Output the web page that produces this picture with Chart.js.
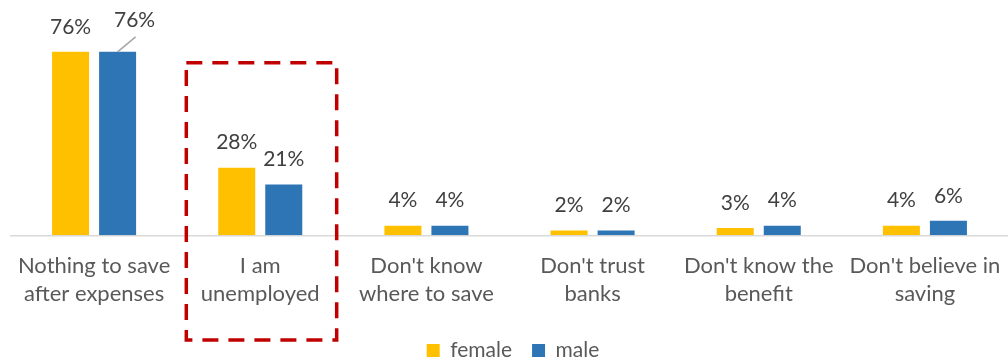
<!DOCTYPE html>
<html>
<head>
<meta charset="utf-8">
<script src="https://cdn.jsdelivr.net/npm/chart.js@4.4.1/dist/chart.umd.min.js"></script>
<style>
    html, body { margin: 0; padding: 0; background: #fff; }
    #wrap { width: 1008px; height: 358px; position: relative; }
</style>
</head>
<body>
<div id="wrap"><canvas id="chart"></canvas></div>
<script>
// Reasons for not saving, share of respondents by gender (%)
const categories = [
    ['Nothing to save', 'after expenses'],
    ['I am', 'unemployed'],
    ["Don't know", 'where to save'],
    ["Don't trust", 'banks'],
    ["Don't know the", 'benefit'],
    ["Don't believe in", 'saving']
];
const femaleValues = [76, 28, 4, 2, 3, 4];
const maleValues = [76, 21, 4, 2, 4, 6];
const seriesNames = ['female', 'male'];

const FONT = 'Lato, "Open Sans", sans-serif';
const HIGHLIGHT_INDEX = 1;

// Value labels above bars; the first male label is pulled aside with a leader line
const valueLabels = {
    id: 'valueLabels',
    afterDatasetsDraw(chart) {
        const ctx = chart.ctx;
        ctx.save();
        ctx.font = '21px ' + FONT;
        ctx.fillStyle = '#404040';
        ctx.textAlign = 'center';
        ctx.textBaseline = 'middle';
        chart.data.datasets.forEach((ds, di) => {
            chart.getDatasetMeta(di).data.forEach((bar, i) => {
                let lx = bar.x;
                let ly = bar.y - 25;
                if (di === 1 && i === 0) {
                    lx = bar.x + 17;
                    ly = bar.y - 32;
                    ctx.strokeStyle = '#a6a6a6';
                    ctx.lineWidth = 1.5;
                    ctx.beginPath();
                    ctx.moveTo(bar.x, bar.y);
                    ctx.lineTo(bar.x + 18, bar.y - 15);
                    ctx.stroke();
                }
                ctx.fillText(ds.data[i] + '%', lx, ly);
            });
        });
        ctx.restore();
    }
};

// Red dashed frame around one category
const highlightBox = {
    id: 'highlightBox',
    afterDraw(chart) {
        const x = chart.scales.x;
        const y = chart.scales.y;
        const step = x.getPixelForValue(1) - x.getPixelForValue(0);
        const cx = x.getPixelForValue(HIGHLIGHT_INDEX);
        const left = cx - step * 0.445;
        const right = cx + step * 0.46;
        const top = y.getPixelForValue(71.5);
        const bottom = chart.height - 18;
        const ctx = chart.ctx;
        ctx.save();
        ctx.strokeStyle = '#C00000';
        ctx.lineWidth = 3.5;
        ctx.setLineDash([16, 10]);
        ctx.strokeRect(left, top, right - left, bottom - top);
        ctx.restore();
    }
};

new Chart(document.getElementById('chart'), {
    type: 'bar',
    data: {
        labels: categories,
        datasets: [
            { label: seriesNames[0], data: femaleValues, backgroundColor: '#FFC000' },
            { label: seriesNames[1], data: maleValues, backgroundColor: '#2E75B6' }
        ]
    },
    options: {
        responsive: true,
        maintainAspectRatio: false,
        animation: false,
        categoryPercentage: 0.566,
        barPercentage: 0.787,
        layout: { padding: { top: 18, left: 11, right: -7, bottom: -13 } },
        scales: {
            x: {
                grid: { display: false, drawTicks: false },
                border: { color: '#d9d9d9', width: 1.5 },
                ticks: {
                    color: '#595959',
                    font: { family: FONT, size: 22, lineHeight: 1.3 },
                    padding: 16,
                    maxRotation: 0,
                    autoSkip: false
                },
                afterFit(scale) {
                    scale.height -= 4.5;
                    // let the axis run to the canvas edge
                    scale.paddingLeft = 0;
                    scale.paddingRight = 0;
                }
            },
            y: {
                display: false,
                min: 0,
                max: 90
            }
        },
        plugins: {
            legend: {
                position: 'bottom',
                labels: {
                    color: '#595959',
                    font: { family: FONT, size: 21 },
                    boxWidth: 13,
                    boxHeight: 13,
                    padding: 20
                }
            },
            tooltip: { enabled: false }
        }
    },
    plugins: [valueLabels, highlightBox]
});
</script>
</body>
</html>
